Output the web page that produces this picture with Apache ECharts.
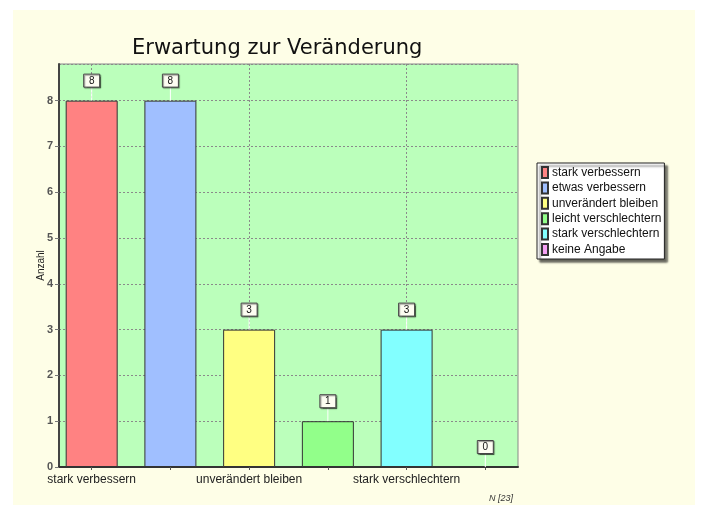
<!DOCTYPE html>
<html lang="de">
<head>
    <meta charset="UTF-8">
    <title>Erwartung zur Veränderung</title>
</head>
<body style="margin:0;">
<div id="echart" style="width: 702px; height: 515px;"></div>

<script src="https://cdn.jsdelivr.net/npm/echarts@6/dist/echarts.min.js"></script>
<script>
    // Kategorien und Anzahl
    var categories = ['stark verbessern', 'etwas verbessern', 'unverändert bleiben',
        'leicht verschlechtern', 'stark verschlechtern', 'keine Angabe'];
    var counts = [8, 8, 3, 1, 3, 0];
    var barColors = ['#ff8282', '#a0bfff', '#ffff82', '#92ff8a', '#82ffff', '#f4a0f4'];
    var labelledTicks = [0, 2, 4];
    var allTicks = [0, 1, 2, 3, 4, 5];
    var totalN = 23;

    var myChart = echarts.init(document.getElementById('echart'));

    var series = categories.map(function (name, i) {
        return {
            name: name,
            type: 'bar',
            barWidth: 52,
            barGap: '-100%',
            z: 3,
            itemStyle: {
                color: barColors[i],
                borderColor: '#333',
                borderWidth: 1
            },
            data: [[i, counts[i]]]
        };
    });

    // Wertkästchen mit weißer Hilfslinie
    series.push({
        type: 'custom',
        name: 'werte',
        z: 5,
        encode: {x: 0, y: 1},
        data: counts.map(function (v, i) { return [i, v]; }),
        renderItem: function (params, api) {
            var p = api.coord([api.value(0), api.value(1)]);
            var cy = p[1] - 20;
            return {
                type: 'group',
                children: [
                    {type: 'line', shape: {x1: p[0], y1: cy + 6, x2: p[0], y2: p[1]},
                        style: {stroke: '#ffffff', lineWidth: 1}},
                    {type: 'rect', shape: {x: p[0] - 8, y: cy - 6.5, width: 16, height: 13},
                        style: {fill: '#fdfdf2', stroke: '#444', lineWidth: 1,
                            shadowColor: 'rgba(0,0,0,0.45)', shadowBlur: 1, shadowOffsetX: 1, shadowOffsetY: 1}},
                    {type: 'text', style: {text: String(api.value(1)), x: p[0], y: cy + 0.5,
                        align: 'center', verticalAlign: 'middle',
                        font: '10px "Liberation Sans"', fill: '#111'}}
                ]
            };
        }
    });

    var option = {
        backgroundColor: '#ffffff',
        textStyle: {fontFamily: '"Liberation Sans", Arial, sans-serif'},
        graphic: [{
            type: 'rect',
            z: -10,
            shape: {x: 13, y: 10, width: 682, height: 495},
            style: {fill: '#fefee7'}
        }],
        title: [{
            text: 'Erwartung zur Veränderung',
            left: 127,
            top: 33,
            textStyle: {fontFamily: '"DejaVu Sans"', fontSize: 21, fontWeight: 'normal', color: '#111'}
        }, {
            text: 'N [' + totalN + ']',
            left: 484,
            top: 489,
            textStyle: {fontSize: 9, fontStyle: 'italic', fontWeight: 'normal', color: '#333'}
        }],
        legend: {
            orient: 'vertical',
            left: 537,
            top: 163,
            data: categories,
            icon: 'rect',
            itemWidth: 6,
            itemHeight: 11,
            itemGap: 2.4,
            padding: [3, 3, 3, 4],
            backgroundColor: '#ffffff',
            borderColor: '#222',
            borderWidth: 1,
            shadowColor: 'rgba(0,0,0,0.6)',
            shadowBlur: 2,
            shadowOffsetX: 3,
            shadowOffsetY: 3,
            selectedMode: false,
            textStyle: {fontSize: 12, lineHeight: 12, color: '#111', padding: [0, 0, 0, -1]}
        },
        grid: {
            left: 59,
            right: 184,
            top: 64,
            bottom: 48,
            show: true,
            backgroundColor: '#bbffbb',
            borderColor: '#888',
            borderWidth: 1
        },
        xAxis: [{
            type: 'value',
            min: -0.415,
            max: 5.415,
            axisLine: {onZero: false, lineStyle: {color: '#333', width: 2}},
            axisTick: {show: true, length: 3, customValues: allTicks, lineStyle: {color: '#555'}},
            axisLabel: {
                customValues: labelledTicks,
                fontSize: 12,
                color: '#222',
                margin: 7,
                formatter: function (v) { return categories[v]; }
            },
            splitLine: {show: false}
        }, {
            type: 'value',
            min: -0.415,
            max: 5.415,
            position: 'bottom',
            axisLine: {show: false},
            axisTick: {show: false, customValues: labelledTicks},
            axisLabel: {show: false, customValues: labelledTicks},
            splitLine: {show: true, customValues: labelledTicks,
                lineStyle: {color: '#8a8a8a', type: [2, 2], width: 1}}
        }],
        yAxis: {
            type: 'value',
            min: 0,
            max: 8.8,
            interval: 1,
            name: 'Anzahl',
            nameLocation: 'middle',
            nameGap: 13,
            nameMoveOverlap: false,
            nameTextStyle: {fontSize: 10, color: '#222'},
            axisLine: {show: true, onZero: false, lineStyle: {color: '#444', width: 2}},
            axisTick: {show: true, length: 4, lineStyle: {color: '#777'}},
            axisLabel: {showMaxLabel: false, fontSize: 11, fontWeight: 'bold', color: '#555', margin: 6},
            splitLine: {show: true, lineStyle: {color: '#8a8a8a', type: [2, 2], width: 1}}
        },
        series: series
    };

    if (option && typeof option === 'object') {
        myChart.setOption(option, true);
    }
</script>
</body>
</html>
